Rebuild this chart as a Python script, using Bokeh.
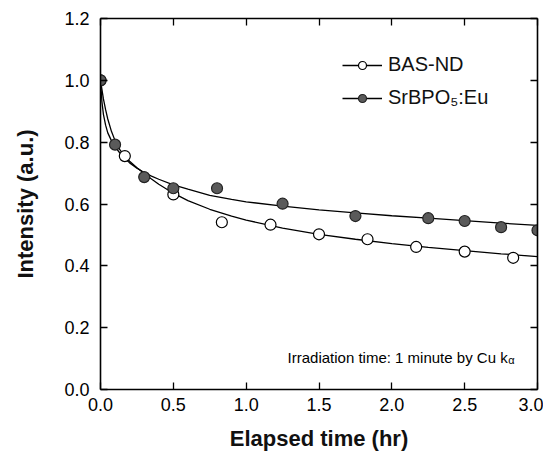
from bokeh.plotting import figure
from bokeh.models import (Range1d, LinearAxis, FixedTicker, PrintfTickFormatter,
                          Legend, LegendItem, Label)
from bokeh.embed import file_html
from bokeh.resources import INLINE

# ---- data ----
bas_t = [0.0, 0.167, 0.5, 0.833, 1.167, 1.5, 1.833, 2.167, 2.5, 2.833]
bas_i = [1.0, 0.755, 0.631, 0.541, 0.533, 0.502, 0.486, 0.461, 0.446, 0.426]

sr_t = [0.0, 0.1, 0.3, 0.5, 0.8, 1.25, 1.75, 2.25, 2.5, 2.75, 3.0]
sr_i = [1.0, 0.792, 0.687, 0.651, 0.651, 0.601, 0.561, 0.554, 0.545, 0.525, 0.515]

fit_t = [0.0, 0.01, 0.02, 0.035, 0.05, 0.075, 0.1, 0.133, 0.167, 0.2, 0.25, 0.3,
         0.35, 0.4, 0.5, 0.6, 0.75, 0.9, 1.0, 1.25, 1.5, 1.75, 2.0, 2.25, 2.5, 2.75, 3.0]
bas_fit = [1.0, 0.97, 0.94, 0.905, 0.875, 0.835, 0.805, 0.776, 0.753, 0.738, 0.717, 0.699,
           0.681, 0.664, 0.635, 0.611, 0.583, 0.561, 0.548, 0.522, 0.502, 0.486, 0.472,
           0.46, 0.449, 0.439, 0.430]
sr_fit = [1.0, 0.93, 0.89, 0.855, 0.83, 0.805, 0.785, 0.765, 0.748, 0.733, 0.716, 0.702,
          0.69, 0.68, 0.662, 0.648, 0.628, 0.615, 0.607, 0.593, 0.581, 0.571, 0.562,
          0.554, 0.546, 0.538, 0.531]

x_ticks = [0.0, 0.5, 1.0, 1.5, 2.0, 2.5, 3.0]
y_ticks = [0.0, 0.2, 0.4, 0.6, 0.8, 1.0, 1.2]

FONT = "Liberation Sans"

p = figure(width=543, height=456, output_backend="svg", toolbar_location=None,
           x_range=Range1d(0, 3.0), y_range=Range1d(0, 1.2),
           min_border_left=100, min_border_right=6, min_border_top=18, min_border_bottom=67,
           x_axis_label="Elapsed time (hr)", y_axis_label="Intensity (a.u.)")
p.grid.visible = False
p.outline_line_color = None
p.background_fill_color = "white"

def style_axis(ax, ticks, show_labels):
    ax.ticker = FixedTicker(ticks=ticks)
    ax.formatter = PrintfTickFormatter(format="%.1f")
    ax.major_tick_in = 7
    ax.major_tick_out = 0
    ax.minor_tick_line_color = None
    ax.axis_line_width = 1.6
    ax.major_tick_line_width = 1.3
    ax.axis_line_color = "black"
    ax.major_tick_line_color = "black"
    if show_labels:
        ax.major_label_text_font = FONT
        ax.major_label_text_font_size = "18px"
        ax.major_label_text_color = "black"
        ax.axis_label_text_font = FONT
        ax.axis_label_text_font_size = "22px"
        ax.axis_label_text_font_style = "bold"
        ax.axis_label_text_color = "#111111"
    else:
        ax.major_label_text_color = None
        ax.major_label_text_font_size = "1px"
        ax.major_label_standoff = 0

xa = p.xaxis[0]
ya = p.yaxis[0]
style_axis(xa, x_ticks, True)
style_axis(ya, y_ticks, True)
xa.major_label_standoff = 8
xa.axis_label_standoff = 12
ya.major_label_standoff = 11
ya.axis_label_standoff = 23

top = LinearAxis()
right = LinearAxis()
style_axis(top, x_ticks, False)
style_axis(right, y_ticks, False)
p.add_layout(top, "above")
p.add_layout(right, "right")

# fitted curves
l_bas = p.line(fit_t, bas_fit, line_color="black", line_width=1.3)
l_sr = p.line(fit_t, sr_fit, line_color="black", line_width=1.3)

# data points
s_bas = p.scatter(bas_t, bas_i, marker="circle", size=11, fill_color="white",
                  line_color="black", line_width=1.2)
s_sr = p.scatter(sr_t, sr_i, marker="circle", size=11, fill_color="#5a5a5a",
                 line_color="#222222", line_width=1.2)

legend = Legend(items=[
    LegendItem(label="BAS-ND", renderers=[l_bas, s_bas]),
    LegendItem(label="SrBPO\u2085:Eu", renderers=[l_sr, s_sr]),
], location=(242, 280))
legend.border_line_color = None
legend.background_fill_alpha = 0
legend.padding = 0
legend.margin = 0
legend.spacing = 10
legend.glyph_width = 40
legend.glyph_height = 20
legend.label_standoff = 6
legend.label_text_font = FONT
legend.label_text_font_size = "20px"
legend.label_text_color = "#111111"
p.add_layout(legend, "center")

ann = Label(x=2.795, y=0.103, text="Irradiation time: 1 minute by Cu k",
            text_align="right", text_baseline="alphabetic",
            text_font=FONT, text_font_size="15px", text_color="black")
ann_sub = Label(x=2.8, y=0.097, text="\u03b1",
                text_align="left", text_baseline="alphabetic",
                text_font=FONT, text_font_size="11px", text_color="black")
p.add_layout(ann)
p.add_layout(ann_sub)

open("out.html", "w").write(file_html(p, INLINE))
